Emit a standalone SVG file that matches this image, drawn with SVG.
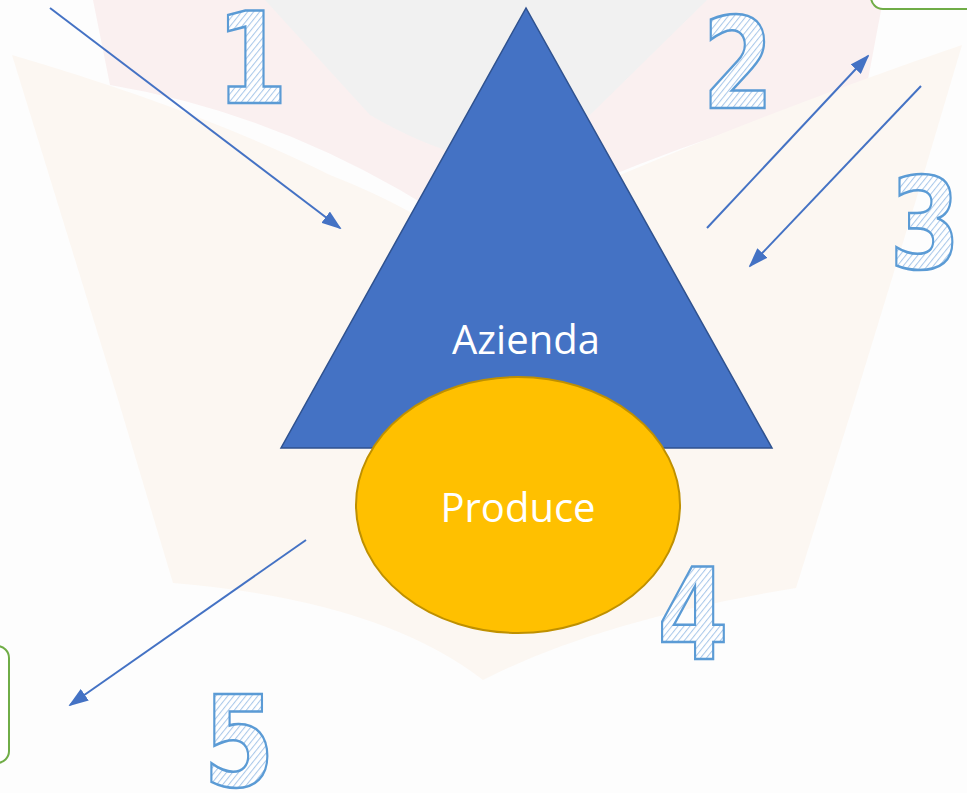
<svg xmlns="http://www.w3.org/2000/svg" width="967" height="793" viewBox="0 0 967 793">
  <defs>
    <style>
      .num { font-family: "DejaVu Sans", sans-serif; font-weight: bold; font-style: normal; font-size: 120px; fill: url(#hatch); stroke: #5B9BD5; stroke-width: 2.5; text-anchor: middle; }
      .lbl { font-family: "Open Sans", "Liberation Sans", sans-serif; font-size: 40px; fill: #FFFFFF; text-anchor: middle; }
      .conn { stroke: #4472C4; stroke-width: 2; fill: none; marker-end: url(#arrow); }
      .box { fill: #FFFFFF; stroke: #70AD47; stroke-width: 2; }
    </style>
    <pattern id="hatch" patternUnits="userSpaceOnUse" width="5" height="5" patternTransform="rotate(45)">
      <rect width="5" height="5" fill="#FFFFFF"/>
      <line x1="0" y1="0" x2="0" y2="5" stroke="#A9C8EA" stroke-width="2.2"/>
    </pattern>
    <marker id="arrow" refX="18" refY="7" markerWidth="20" markerHeight="14" markerUnits="userSpaceOnUse" orient="auto">
      <path d="M0,0 L20,7 L0,14 Z" fill="#4472C4"/>
    </marker>
  </defs>

  <rect width="967" height="793" fill="#FDFDFD"/>

  <g id="watermark">
    <path d="M93,0 L883,0 L866,90 Q720,130 600,180 L483,240 L400,190 Q260,110 110,85 Z" fill="#FAF0F0"/>
    <path d="M265,0 L707,0 L590,115 Q530,150 483,160 Q430,150 370,115 Z" fill="#F1F1F1"/>
    <path d="M12,55 Q200,110 330,175 Q420,210 483,260 Q560,200 620,175 Q800,100 962,45 L916,200 L856,396 L796,588 Q600,620 483,680 Q380,600 173,583 L117,396 Z" fill="#FCF7F2"/>
  </g>

  <g id="box-top-right">
    <rect class="box" x="871" y="-40" width="140" height="49" rx="12"/>
  </g>
  <g id="box-bottom-left">
    <rect class="box" x="-60" y="646" width="69" height="117" rx="12"/>
  </g>

  <g id="azienda">
    <polygon points="526,8 281,448 772,448" fill="#4472C4" stroke="#2F528F" stroke-width="1.5"/>
    <text class="lbl" x="526" y="354">Azienda</text>
  </g>

  <g id="produce">
    <ellipse cx="518" cy="505" rx="162" ry="128" fill="#FFC000" stroke="#BF9000" stroke-width="2"/>
    <text class="lbl" x="518" y="522">Produce</text>
  </g>

  <g id="connectors">
    <line class="conn" x1="50" y1="8" x2="340" y2="228"/>
    <line class="conn" x1="707" y1="228" x2="868" y2="56"/>
    <line class="conn" x1="921" y1="86" x2="750" y2="266"/>
    <line class="conn" x1="306" y1="540" x2="70" y2="705"/>
  </g>

  <g id="numbers">
    <text class="num" transform="translate(252,103) scale(0.85,1.06)">1</text>
    <text class="num" transform="translate(738,108) scale(0.85,1.06)">2</text>
    <text class="num" transform="translate(925,268) scale(0.85,1.06)">3</text>
    <text class="num" transform="translate(693,659) scale(0.85,1.06)">4</text>
    <text class="num" transform="translate(239,786) scale(0.85,1.06)">5</text>
  </g>
</svg>
